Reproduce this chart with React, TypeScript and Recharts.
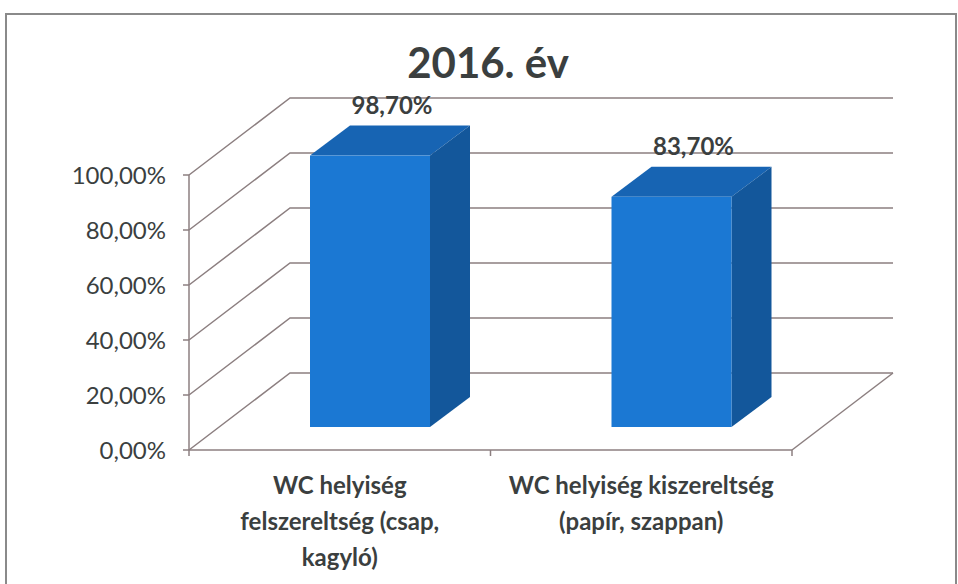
import { BarChart, Bar, XAxis, YAxis, CartesianGrid, LabelList } from 'recharts';

// categories (x axis) and the wrapped label lines for each
const categories = [
  'WC helyiség felszereltség (csap, kagyló)',
  'WC helyiség kiszereltség (papír, szappan)',
];
const categoryLines = [
  ['WC helyiség', 'felszereltség (csap,', 'kagyló)'],
  ['WC helyiség kiszereltség', '(papír, szappan)'],
];
const values2016 = [0.987, 0.837];
const yTicks = [0, 0.2, 0.4, 0.6, 0.8, 1];

const W = 958;
const H = 584;
const PLOT_LEFT = 189;
const PLOT_RIGHT = 792;
const PLOT_TOP = 175;
const PLOT_BOTTOM = 450;
const BAND = (PLOT_RIGHT - PLOT_LEFT) / categories.length;

// 3d offsets
const WALL_DX = 101;
const WALL_DY = -77;
const BAR_SHIFT_X = 30;
const BAR_SHIFT_Y = -23;
const BAR_DX = 40;
const BAR_DY = -30;

const GRID = '#8c7f80';
const TEXT = '#3b3f3f';
const FONT = 'Lato, "Open Sans", sans-serif';

const data = categories.map((name, i) => ({ name, value: values2016[i], idx: i }));

const fmt = (v: number) => (v * 100).toFixed(2).replace('.', ',') + '%';

function WallLine(props: any) {
  const { x1, y1, x2 } = props;
  const isFloor = Math.abs(y1 - PLOT_BOTTOM) < 1;
  return (
    <g>
      <polyline
        points={`${x1},${y1} ${x1 + WALL_DX},${y1 + WALL_DY} ${x2 + WALL_DX},${y1 + WALL_DY}`}
        fill="none"
        stroke={GRID}
        strokeWidth={1.5}
      />
      {isFloor && (
        <line
          x1={x2}
          y1={y1}
          x2={x2 + WALL_DX}
          y2={y1 + WALL_DY}
          stroke={GRID}
          strokeWidth={1.5}
        />
      )}
    </g>
  );
}

function Box(props: any) {
  const { x, y, width, height } = props;
  const fx = x + BAR_SHIFT_X;
  const fy = y + BAR_SHIFT_Y;
  const fb = fy + height;
  return (
    <g>
      {/* top */}
      <polygon
        points={`${fx},${fy} ${fx + BAR_DX},${fy + BAR_DY} ${fx + width + BAR_DX},${fy + BAR_DY} ${fx + width},${fy}`}
        fill="#1764b3"
      />
      {/* side */}
      <polygon
        points={`${fx + width},${fy} ${fx + width + BAR_DX},${fy + BAR_DY} ${fx + width + BAR_DX},${fb + BAR_DY} ${fx + width},${fb}`}
        fill="#13579b"
      />
      {/* front */}
      <rect x={fx} y={fy} width={width} height={height} fill="#1b78d3" />
    </g>
  );
}

function ValueLabel(props: any) {
  const { x, y, width, value } = props;
  return (
    <text
      x={x + width / 2 + BAR_SHIFT_X + 22}
      y={y + BAR_SHIFT_Y + BAR_DY - 12}
      textAnchor="middle"
      fill={TEXT}
      fontFamily={FONT}
      fontWeight={700}
      fontSize={24}
    >
      {fmt(value)}
    </text>
  );
}

function CategoryTick(props: any) {
  const { x, y, payload, index } = props;
  const lines = categoryLines[index] || [payload.value];
  const left = x - BAND / 2;
  return (
    <g>
      <line x1={left} y1={PLOT_BOTTOM} x2={left} y2={PLOT_BOTTOM + 6} stroke={GRID} strokeWidth={1.5} />
      {index === categories.length - 1 && (
        <line x1={left + BAND} y1={PLOT_BOTTOM} x2={left + BAND} y2={PLOT_BOTTOM + 6} stroke={GRID} strokeWidth={1.5} />
      )}
      {lines.map((l: string, i: number) => (
        <text
          key={i}
          x={x}
          y={y + 36 + i * 36}
          textAnchor="middle"
          fill={TEXT}
          fontFamily={FONT}
          fontWeight={700}
          fontSize={24}
        >
          {l}
        </text>
      ))}
    </g>
  );
}

export default function App() {
  return (
    <div style={{ position: 'absolute', left: 0, top: 0, width: W, height: H, background: '#fff', overflow: 'hidden' }}>
      <div
        style={{
          position: 'absolute',
          left: 5,
          top: 13,
          width: 948,
          height: 600,
          border: '2px solid #8a8a8a',
        }}
      />
      <BarChart
        width={W}
        height={H}
        data={data}
        margin={{ top: PLOT_TOP, right: W - PLOT_RIGHT, bottom: 0, left: PLOT_LEFT - 100 }}
        barSize={120}
      >
        <CartesianGrid
          vertical={false}
          horizontal={(p: any) => <WallLine key={p.key} {...p} />}
        />
        <XAxis
          dataKey="name"
          height={H - PLOT_BOTTOM}
          tickLine={false}
          axisLine={{ stroke: GRID, strokeWidth: 1.5 }}
          tick={(p: any) => <CategoryTick {...p} />}
          interval={0}
        />
        <YAxis
          width={100}
          domain={[0, 1]}
          ticks={yTicks}
          tickFormatter={fmt}
          axisLine={{ stroke: GRID, strokeWidth: 1.5 }}
          tickLine={{ stroke: GRID, strokeWidth: 1.5 }}
          tickSize={6}
          tickMargin={17}
          tick={{ fill: TEXT, fontFamily: FONT, fontSize: 24 }}
        />
        <Bar dataKey="value" shape={(p: any) => <Box {...p} />} isAnimationActive={false}>
          <LabelList dataKey="value" content={(p: any) => <ValueLabel {...p} />} />
        </Bar>
      </BarChart>
      <svg width={W} height={H} style={{ position: 'absolute', left: 0, top: 0, pointerEvents: 'none' }}>
        <text x={488} y={78} textAnchor="middle" fill={TEXT} fontFamily={FONT} fontWeight={700} fontSize={42}>
          2016. év
        </text>
      </svg>
    </div>
  );
}
